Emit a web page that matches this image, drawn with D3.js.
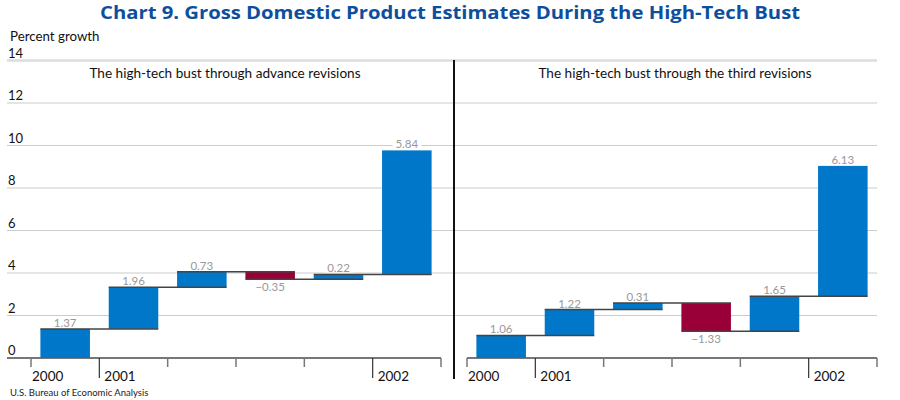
<!DOCTYPE html>
<html>
<head>
<meta charset="utf-8">
<script src="https://cdn.jsdelivr.net/npm/d3@7/dist/d3.min.js"></script>
<style>
  html, body { margin: 0; padding: 0; background: #fff; }
  svg { display: block; font-family: Lato, "Open Sans", sans-serif; }
</style>
</head>
<body>
<svg id="chart" width="900" height="400"></svg>
<script>
// ---- data ----
const quarters = ["2000 Q4", "2001 Q1", "2001 Q2", "2001 Q3", "2001 Q4", "2002 Q1"];
const yearLabels = ["2000", "2001", "", "", "", "2002"];
const advanceValues = [1.37, 1.96, 0.73, -0.35, 0.22, 5.84];
const thirdValues = [1.06, 1.22, 0.31, -1.33, 1.65, 6.13];
const yTicks = [0, 2, 4, 6, 8, 10, 12, 14];
const panelTitles = ["The high-tech bust through advance revisions", "The high-tech bust through the third revisions"];

const svg = d3.select("#chart");
const y = d3.scaleLinear().domain([0, 14]).range([358, 60.5]);

// title
svg.append("text").attr("x", 450).attr("y", 19).attr("text-anchor", "middle")
  .attr("font-family", "'Open Sans', Lato, sans-serif")
  .attr("font-size", 18.5).attr("font-weight", 700).attr("fill", "#0d4f9e")
  .attr("textLength", 700).attr("lengthAdjust", "spacingAndGlyphs")
  .text("Chart 9. Gross Domestic Product Estimates During the High-Tech Bust");
svg.append("text").attr("x", 10).attr("y", 41).attr("font-size", 13.3).attr("fill", "#111")
  .text("Percent growth");

// gridlines
yTicks.forEach(t => {
  if (t === 0) return;
  svg.append("line").attr("x1", 7).attr("x2", 877).attr("y1", y(t)).attr("y2", y(t))
    .attr("stroke", t === 14 ? "#dddddd" : "#cccccc").attr("stroke-width", t === 14 ? 2.5 : 1.2);
});
yTicks.forEach(t => {
  svg.append("text").attr("x", 8).attr("y", y(t) - 3).attr("font-size", 13).attr("fill", "#111").text(t);
});

// divider
svg.append("line").attr("x1", 454).attr("x2", 454).attr("y1", 60).attr("y2", 379)
  .attr("stroke", "#111").attr("stroke-width", 2);

function panel(values, r0, r1, title, titleX, axisStart) {
  const x = d3.scaleBand().domain(quarters).range([r0, r1]).paddingInner(0.275).paddingOuter(0.1375);
  const step = x.step();
  const g = svg.append("g");
  let cum = 0;
  const rows = values.map((v, i) => { const s = cum; cum += v; return { q: quarters[i], v, start: s, end: cum }; });

  g.append("text").attr("x", titleX).attr("y", 78).attr("text-anchor", "middle")
    .attr("font-size", 13.6).attr("fill", "#111").text(title);

  g.append("line").attr("x1", axisStart).attr("x2", r1).attr("y1", y(0)).attr("y2", y(0))
    .attr("stroke", "#777").attr("stroke-width", 2);
  d3.range(quarters.length + 1).forEach(i => {
    const tx = r0 + i * step;
    const long = (i === 1 || i === 5);
    g.append("line").attr("x1", tx).attr("x2", tx).attr("y1", y(0)).attr("y2", long ? 378 : 367)
      .attr("stroke", long ? "#333" : "#777").attr("stroke-width", long ? 1.2 : 1.5);
  });
  yearLabels.forEach((lab, i) => {
    if (!lab) return;
    g.append("text").attr("x", r0 + i * step + (i === 0 ? 1 : 5)).attr("y", 381)
      .attr("font-size", 13.5).attr("fill", "#111").text(lab);
  });

  const labels = g.append("g");
  const bars = g.append("g");
  const conns = g.append("g");

  bars.selectAll("rect").data(rows).join("rect")
    .attr("x", d => x(d.q)).attr("width", x.bandwidth())
    .attr("y", d => y(Math.max(d.start, d.end)))
    .attr("height", d => Math.abs(y(d.start) - y(d.end)))
    .attr("fill", d => d.v >= 0 ? "#0077c8" : "#990038");

  rows.forEach((d, i) => {
    if (i < rows.length - 1) {
      conns.append("line").attr("x1", x(d.q)).attr("x2", x(rows[i + 1].q) + x.bandwidth())
        .attr("y1", y(d.end)).attr("y2", y(d.end)).attr("stroke", "#444").attr("stroke-width", 1.5);
    }
  });

  rows.forEach(d => {
    const cx = x(d.q) + x.bandwidth() / 2;
    const ty = d.v >= 0 ? y(d.end) - 2 : y(d.end) + 12;
    const t = labels.append("text").attr("x", cx).attr("y", ty).attr("text-anchor", "middle")
      .attr("font-size", 11.5).attr("fill", "#999")
      .text(d.v < 0 ? "\u2212" + Math.abs(d.v).toFixed(2) : d.v.toFixed(2));
    const bb = t.node().getBBox();
    labels.insert("rect", "text").attr("x", bb.x - 3).attr("y", bb.y + 1).attr("width", bb.width + 6)
      .attr("height", bb.height - 3).attr("fill", "#fff");
  });
}

panel(advanceValues, 31, 441, panelTitles[0], 225, 7);
panel(thirdValues, 467, 877, panelTitles[1], 675, 467);

svg.append("text").attr("x", 10).attr("y", 396).attr("font-size", 9.5).attr("fill", "#222")
  .text("U.S. Bureau of Economic Analysis");
</script>
</body>
</html>
